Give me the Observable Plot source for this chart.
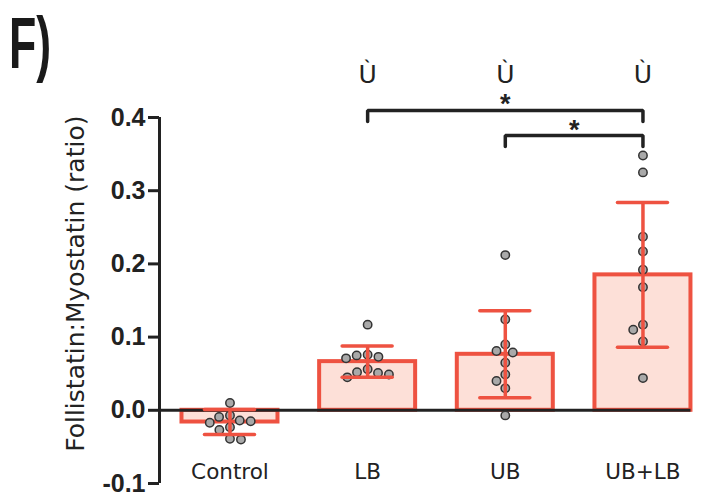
<!DOCTYPE html>
<html>
<head>
<meta charset="utf-8">
<script src="https://cdn.jsdelivr.net/npm/d3@7"></script>
<script src="https://cdn.jsdelivr.net/npm/@observablehq/plot@0.6"></script>
<style>
  html, body { margin: 0; padding: 0; background: #fff; }
  #wrap { position: relative; width: 712px; height: 492px; }
  #panel {
    position: absolute; left: 9px; top: 2px;
    font-family: "Liberation Sans", Arial, sans-serif; font-weight: bold;
    font-size: 72px; line-height: normal; color: #1a1a1a;
    transform: scaleX(0.62); transform-origin: left top;
  }
</style>
</head>
<body>
<div id="wrap"><div id="panel">F)</div></div>
<script>
// ---- data ----
const groups = ["Control", "LB", "UB", "UB+LB"];
const controlValues = [0.010, -0.007, -0.014, -0.017, -0.023, -0.015, -0.009, -0.027, -0.040, -0.039];
const lbValues = [0.117, 0.076, 0.073, 0.071, 0.075, 0.056, 0.051, 0.045, 0.049, 0.052];
const ubValues = [0.212, 0.124, 0.090, 0.079, 0.081, 0.065, 0.049, 0.040, 0.030, -0.007];
const ublbValues = [0.348, 0.325, 0.237, 0.217, 0.192, 0.168, 0.117, 0.110, 0.094, 0.044];
const means = [-0.016, 0.0665, 0.0765, 0.185];
const sds = [0.017, 0.0215, 0.0595, 0.099];
const yTicks = [-0.1, 0.0, 0.1, 0.2, 0.3, 0.4];
const yLabel = "Follistatin:Myostatin (ratio)";
const markGroups = [1, 2, 3];
const markSymbol = "Ù";
const comparisons = [
  {from: 1, to: 3, level: 0.4096, label: "*"},
  {from: 2, to: 3, level: 0.3754, label: "*"}
];

// ---- layout ----
const W = 712, H = 492;
const mL = 159, mR = 21.5, mT = 117, mB = 9;
const xDomain = [-0.512, 3.349];
const yDomain = [-0.1, 0.4];
const pxX = (W - mL - mR) / (xDomain[1] - xDomain[0]);
const pxY = (H - mT - mB) / (yDomain[1] - yDomain[0]);
const red = "#ee5241";
const ink = "#222";

// simple beeswarm: offsets (px) so that dots of diameter d do not overlap
function beeswarm(values, d) {
  const order = values.map((v, i) => i).sort((a, b) => values[b] - values[a]);
  const placed = [];
  const offs = new Array(values.length);
  for (const i of order) {
    const y = -values[i] * pxY;
    const near = placed.filter(p => Math.abs(p.y - y) < d);
    const cands = [0];
    for (const p of near) {
      const w = Math.sqrt(d * d - (p.y - y) ** 2);
      cands.push(p.x - w, p.x + w);
    }
    cands.sort((a, b) => Math.abs(a) - Math.abs(b) || a - b);
    const x = cands.find(c => near.every(p => (p.x - c) ** 2 + (p.y - y) ** 2 >= d * d - 1e-6));
    placed.push({x, y});
    offs[i] = x;
  }
  return offs;
}

const allValues = [controlValues, lbValues, ubValues, ublbValues];
const R = 4.2;
const points = allValues.flatMap((vals, gi) => {
  const offs = beeswarm(vals, 2 * R + 2.6);
  return vals.map((v, k) => ({gi, v, x: gi + offs[k] / pxX}));
});
const summary = groups.map((g, i) => ({i, g, mean: means[i], lo: means[i] - sds[i], hi: means[i] + sds[i]}));
const halfBar = 48 / pxX, halfCap = 25 / pxX, tip = 11 / pxY;
const bracketLines = comparisons.flatMap((c, k) => [
  {k, x: c.from, y: c.level - tip},
  {k, x: c.from, y: c.level},
  {k, x: c.to, y: c.level},
  {k, x: c.to, y: c.level - tip}
]);

const chart = Plot.plot({
  width: W, height: H,
  marginLeft: mL, marginRight: mR, marginTop: mT, marginBottom: mB,
  x: {type: "linear", domain: xDomain},
  y: {domain: yDomain},
  style: {background: "transparent", overflow: "visible", color: ink},
  marks: [
    // bars
    Plot.rectY(summary, {x1: d => d.i - halfBar, x2: d => d.i + halfBar, y1: 0, y2: "mean",
      fill: "#fde0d8", stroke: red, strokeWidth: 4}),
    // baseline
    Plot.ruleY([0], {stroke: ink, strokeWidth: 3}),
    // y axis line
    Plot.ruleX([xDomain[0]], {y1: yDomain[0], y2: yDomain[1], stroke: ink, strokeWidth: 3}),
    Plot.axisY({ticks: yTicks, tickSize: 11, tickPadding: 3, tickFormat: d => d.toFixed(1),
      strokeWidth: 3, stroke: ink, fill: ink, fontSize: 25, fontWeight: "bold",
      fontFamily: "Liberation Sans, Arial, sans-serif"}),
    Plot.axisX({ticks: [0, 1, 2, 3], tickFormat: i => groups[i], tickSize: 0, tickPadding: 0, dy: -20,
      fontSize: 21.5, fontFamily: "DejaVu Sans, sans-serif", fill: ink}),
    Plot.text([yLabel], {x: xDomain[0], y: 0.173, rotate: -90, dx: -76, lineAnchor: "bottom",
      fontSize: 25, fontFamily: "DejaVu Sans, sans-serif", fill: ink}),
    // dots
    Plot.dot(points, {x: "x", y: "v", r: R, fill: "#a9a9a9", stroke: "#333", strokeWidth: 1.5}),
    // error bars
    Plot.ruleX(summary, {x: "i", y1: "lo", y2: "hi", stroke: red, strokeWidth: 3.5}),
    Plot.ruleY(summary, {y: "hi", x1: d => d.i - halfCap, x2: d => d.i + halfCap, stroke: red, strokeWidth: 3.5, strokeLinecap: "round"}),
    Plot.ruleY(summary, {y: "lo", x1: d => d.i - halfCap, x2: d => d.i + halfCap, stroke: red, strokeWidth: 3.5, strokeLinecap: "round"}),
    // annotations
    Plot.text(markGroups, {x: d => d, y: 0.447, text: () => markSymbol, lineAnchor: "bottom",
      fontSize: 25, fontFamily: "DejaVu Sans, sans-serif", fill: ink}),
    Plot.line(bracketLines, {x: "x", y: "y", z: "k", stroke: ink, strokeWidth: 3.5, strokeLinejoin: "miter", strokeLinecap: "round"}),
    Plot.text(comparisons, {x: d => (d.from + d.to) / 2, y: "level", text: "label", lineAnchor: "bottom", dy: 3,
      fontSize: 27, fontWeight: "bold", fontFamily: "Liberation Sans, Arial, sans-serif", fill: ink})
  ]
});
chart.style.position = "absolute";
chart.style.left = "0px";
chart.style.top = "0px";
document.getElementById("wrap").prepend(chart);
</script>
</body>
</html>
